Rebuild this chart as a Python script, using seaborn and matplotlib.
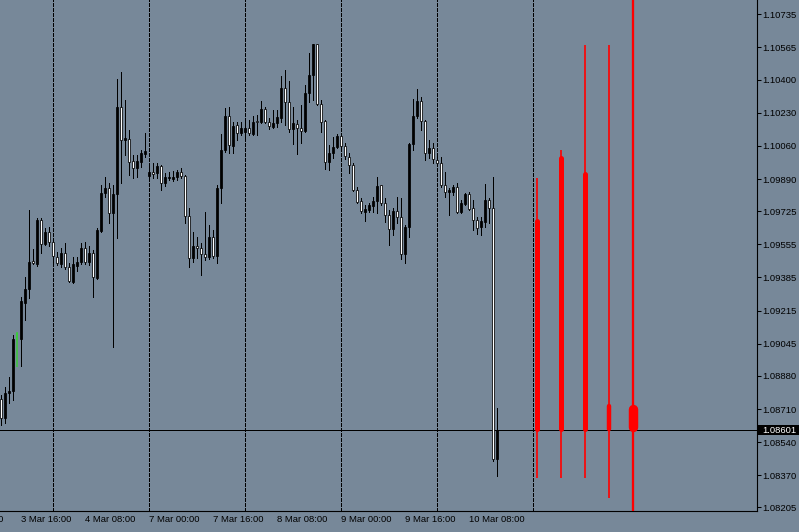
import numpy as np
import pandas as pd
import matplotlib
matplotlib.use("Agg")
import matplotlib.pyplot as plt
import matplotlib.transforms as mtransforms
from matplotlib.patches import Rectangle
import seaborn as sns

# ---------------- data (EURUSD H1, 3 Mar 11:00 .. 10 Mar 15:00) ----------------
opens = [1.08761, 1.08664, 1.08792, 1.08802, 1.09064, 1.09069, 1.09254, 1.09325, 1.09469, 1.09454,
         1.09679, 1.09556, 1.09618, 1.09567, 1.09490, 1.09454, 1.09510, 1.09438, 1.09361, 1.09443,
         1.09464, 1.09536, 1.09464, 1.09510, 1.09382, 1.09623, 1.09818, 1.09844, 1.09715, 1.09813,
         1.10259, 1.10090, 1.10095, 1.09982, 1.09946, 1.09977, 1.10018, 1.09905, 1.09926, 1.09921,
         1.09956, 1.09869, 1.09895, 1.09890, 1.09900, 1.09926, 1.09905, 1.09700, 1.09485, 1.09546,
         1.09536, 1.09505, 1.09490, 1.09592, 1.09495, 1.09844, 1.10038, 1.10213, 1.10059, 1.10167,
         1.10126, 1.10131, 1.10151, 1.10121, 1.10187, 1.10182, 1.10249, 1.10182, 1.10157, 1.10177,
         1.10203, 1.10357, 1.10285, 1.10146, 1.10172, 1.10151, 1.10136, 1.10331, 1.10423, 1.10582,
         1.10274, 1.10187, 1.09977, 1.10023, 1.10054, 1.10110, 1.10059, 1.10003, 1.09962, 1.09833,
         1.09777, 1.09720, 1.09731, 1.09751, 1.09777, 1.09859, 1.09767, 1.09705, 1.09633, 1.09726,
         1.09695, 1.09505, 1.09644, 1.10069, 1.10213, 1.10290, 1.10187, 1.10023, 1.10049, 1.09987,
         1.09972, 1.09859, 1.09823, 1.09823, 1.09849, 1.09720, 1.09762, 1.09813, 1.09741, 1.09679,
         1.09644, 1.09669, 1.09782, 1.09741, 1.08453]
highs = [1.08782, 1.08823, 1.08874, 1.09089, 1.09105, 1.09284, 1.09387, 1.09731, 1.09531, 1.09690,
         1.09690, 1.09638, 1.09644, 1.09587, 1.09515, 1.09536, 1.09561, 1.09459, 1.09490, 1.09490,
         1.09561, 1.09567, 1.09546, 1.09526, 1.09638, 1.09859, 1.09900, 1.09869, 1.09859, 1.10403,
         1.10439, 1.10295, 1.10141, 1.10013, 1.10013, 1.10038, 1.10126, 1.09962, 1.09972, 1.09972,
         1.09962, 1.09921, 1.09926, 1.09931, 1.09936, 1.09946, 1.09910, 1.09741, 1.09618, 1.09592,
         1.09561, 1.09720, 1.09654, 1.09628, 1.09859, 1.10121, 1.10254, 1.10259, 1.10182, 1.10182,
         1.10182, 1.10182, 1.10192, 1.10213, 1.10218, 1.10290, 1.10259, 1.10203, 1.10244, 1.10244,
         1.10418, 1.10449, 1.10392, 1.10259, 1.10192, 1.10269, 1.10372, 1.10536, 1.10582, 1.10582,
         1.10295, 1.10192, 1.10064, 1.10105, 1.10121, 1.10121, 1.10074, 1.10023, 1.09972, 1.09849,
         1.09792, 1.09756, 1.09767, 1.09797, 1.09900, 1.09859, 1.09792, 1.09731, 1.09741, 1.09797,
         1.09792, 1.09654, 1.10074, 1.10300, 1.10351, 1.10310, 1.10192, 1.10090, 1.10074, 1.10003,
         1.10003, 1.09926, 1.09844, 1.09859, 1.09869, 1.09782, 1.09818, 1.09823, 1.09782, 1.09695,
         1.09695, 1.09864, 1.09792, 1.09900, 1.08715]
lows = [1.08628, 1.08638, 1.08741, 1.08756, 1.08925, 1.08930, 1.09166, 1.09279, 1.09454, 1.09443,
        1.09510, 1.09551, 1.09546, 1.09464, 1.09449, 1.09438, 1.09428, 1.09361, 1.09356, 1.09418,
        1.09454, 1.09454, 1.09449, 1.09284, 1.09377, 1.09618, 1.09797, 1.09664, 1.09028, 1.09587,
        1.09869, 1.10013, 1.09910, 1.09895, 1.09900, 1.09951, 1.10003, 1.09895, 1.09895, 1.09895,
        1.09833, 1.09854, 1.09885, 1.09880, 1.09885, 1.09895, 1.09664, 1.09438, 1.09464, 1.09485,
        1.09397, 1.09474, 1.09479, 1.09485, 1.09459, 1.09767, 1.10028, 1.10023, 1.10023, 1.10090,
        1.10115, 1.10100, 1.10115, 1.10115, 1.10115, 1.10177, 1.10177, 1.10146, 1.10151, 1.10157,
        1.10182, 1.10167, 1.10131, 1.10069, 1.10018, 1.10074, 1.10131, 1.10285, 1.10295, 1.10269,
        1.10131, 1.09941, 1.09936, 1.09997, 1.10049, 1.10049, 1.09992, 1.09921, 1.09828, 1.09767,
        1.09715, 1.09674, 1.09720, 1.09720, 1.09715, 1.09756, 1.09669, 1.09551, 1.09602, 1.09664,
        1.09479, 1.09459, 1.09592, 1.10038, 1.10203, 1.10141, 1.09987, 1.09997, 1.09972, 1.09962,
        1.09849, 1.09797, 1.09705, 1.09808, 1.09715, 1.09715, 1.09756, 1.09731, 1.09628, 1.09608,
        1.09602, 1.09644, 1.09664, 1.08443, 1.08366]
closes = [1.08664, 1.08792, 1.08802, 1.09069, 1.09100, 1.09264, 1.09325, 1.09464, 1.09459, 1.09679,
          1.09556, 1.09618, 1.09567, 1.09495, 1.09459, 1.09510, 1.09438, 1.09367, 1.09454, 1.09464,
          1.09536, 1.09464, 1.09510, 1.09387, 1.09628, 1.09818, 1.09844, 1.09715, 1.09813, 1.10259,
          1.10090, 1.10100, 1.09977, 1.09946, 1.09982, 1.10023, 1.10033, 1.09926, 1.09915, 1.09956,
          1.09869, 1.09900, 1.09900, 1.09900, 1.09926, 1.09905, 1.09700, 1.09485, 1.09546, 1.09536,
          1.09505, 1.09490, 1.09592, 1.09495, 1.09844, 1.10038, 1.10213, 1.10064, 1.10162, 1.10126,
          1.10151, 1.10151, 1.10126, 1.10182, 1.10182, 1.10249, 1.10182, 1.10162, 1.10177, 1.10208,
          1.10357, 1.10285, 1.10146, 1.10177, 1.10151, 1.10136, 1.10331, 1.10423, 1.10582, 1.10274,
          1.10182, 1.09977, 1.10023, 1.10054, 1.10110, 1.10059, 1.10008, 1.09962, 1.09833, 1.09772,
          1.09726, 1.09736, 1.09756, 1.09777, 1.09854, 1.09767, 1.09705, 1.09633, 1.09726, 1.09695,
          1.09505, 1.09644, 1.10069, 1.10213, 1.10290, 1.10187, 1.10023, 1.10049, 1.09992, 1.09972,
          1.09859, 1.09823, 1.09833, 1.09849, 1.09720, 1.09767, 1.09813, 1.09736, 1.09679, 1.09638,
          1.09674, 1.09782, 1.09741, 1.08453, 1.08601]
highlight_bar = 4          # candle drawn in green

current_price = 1.08601

# higher-timeframe red candles drawn to the right of the last bar
red_slots = [134, 140, 146, 152, 158]
red_open = [1.09684, 1.10003, 1.09921, 1.08735, 1.08725]
red_high = [1.09895, 1.10038, 1.10577, 1.10577, 1.11300]
red_low = [1.08356, 1.08356, 1.08356, 1.08253, 1.07800]
red_close = [1.08601, 1.08601, 1.08601, 1.08601, 1.08601]

day_separator_bars = [13, 37, 61, 85, 109, 133]
time_tick_bars = [5, 21, 37, 53, 69, 85, 101, 117]
time_tick_labels = ["3 Mar 16:00", "4 Mar 08:00", "7 Mar 00:00", "7 Mar 16:00",
                    "8 Mar 08:00", "9 Mar 00:00", "9 Mar 16:00", "10 Mar 08:00"]
cut_label_bar = -12
cut_label = "3 Mar 00:00"

price_ticks = [1.10735, 1.10565, 1.10400, 1.10230, 1.10060, 1.09890, 1.09725, 1.09555,
               1.09385, 1.09215, 1.09045, 1.08880, 1.08710, 1.08540, 1.08370, 1.08205]

# ---------------- style ----------------
BG = "#778899"
RED = "#ff0000"
GREEN = "#3cc83c"
sns.set_style("white", rc={"axes.facecolor": BG, "figure.facecolor": BG,
                           "axes.edgecolor": "black", "text.color": "black",
                           "xtick.color": "black", "ytick.color": "black",
                           "axes.labelcolor": "black"})
plt.rcParams["font.family"] = ["Liberation Sans", "DejaVu Sans"]
FS = 6.8
PX = 0.72   # one pixel in points

W, H = 799, 532
fig = plt.figure(figsize=(W / 100, H / 100), dpi=100)
ax = fig.add_axes([0, 21 / H, 757 / W, 511 / H])
ax.set_facecolor(BG)

YMAX, YMIN = 1.108084, 1.08187
ax.set_xlim(-0.25, 189.0)
ax.set_ylim(YMIN, YMAX)
ppp = (YMAX - YMIN) / 511.0   # price per pixel (for cap insets)

df = pd.DataFrame({"bar": np.arange(len(opens)), "open": opens, "high": highs,
                   "low": lows, "close": closes})
df["bull"] = df["close"] >= df["open"]
main = df[df["bar"] != highlight_bar]

# wicks via seaborn (one unit per candle)
wicks = pd.concat([main[["bar", "high"]].rename(columns={"high": "price"}),
                   main[["bar", "low"]].rename(columns={"low": "price"})])
sns.lineplot(data=wicks, x="bar", y="price", units="bar", estimator=None, sort=False,
             color="black", linewidth=PX, ax=ax, legend=False, zorder=2,
             antialiased=False)

# bodies
bottoms = np.minimum(main["open"], main["close"])
heights = np.maximum(np.abs(main["close"] - main["open"]), 0.6 * ppp)
ax.bar(main["bar"], heights, bottom=bottoms, width=0.62,
       color=np.where(main["bull"], "black", "white"), edgecolor="black",
       linewidth=0.55, zorder=3)

# highlighted green candle
g = df[df["bar"] == highlight_bar].iloc[0]
ax.vlines(g["bar"], g["low"], g["high"], color=GREEN, lw=1.1, zorder=4)
ax.bar([g["bar"]], [abs(g["close"] - g["open"])], bottom=[min(g["open"], g["close"])],
       width=0.55, color=GREEN, linewidth=0, zorder=4)

# separators and current price line
for b in day_separator_bars:
    ax.axvline(b, color="black", lw=PX, linestyle=(0, (3, 2)), zorder=1,
               antialiased=False)
ax.axhline(current_price, color="black", lw=PX, zorder=1.5, antialiased=False)

# red candles
red_body_w = [3.6, 3.6, 3.6, 3.2, 6.8]     # points
red_wick_w = [1.2, 1.2, 1.2, 1.2, 1.65]
for x, o, hi, lo, c, bw, ww in zip(red_slots, red_open, red_high, red_low, red_close,
                                     red_body_w, red_wick_w):
    ax.vlines(x, lo, hi, colors=RED, lw=ww, zorder=5)
    inset = bw / 0.72 / 2 * ppp
    ax.plot([x, x], [c + inset * 0.6, o - inset * 0.6], color=RED, lw=bw,
            solid_capstyle="round", zorder=5)

# axes / spines
for s in ["top", "left"]:
    ax.spines[s].set_visible(False)
for s in ["right", "bottom"]:
    ax.spines[s].set_color("black")
    ax.spines[s].set_linewidth(0.8)

ax.yaxis.tick_right()
ax.set_yticks(price_ticks)
ax.set_yticklabels([f"{v:.5f}" for v in price_ticks])
ax.tick_params(axis="y", length=2.6, width=0.75, pad=1.2, labelsize=FS, direction="out")
ax.set_xticks(time_tick_bars)
ax.set_xticklabels(time_tick_labels)
ax.tick_params(axis="x", length=0, pad=2.6, labelsize=FS)
for lab in ax.get_xticklabels():
    lab.set_horizontalalignment("left")
ax.set_xlabel("")
ax.set_ylabel("")
ax.grid(False)

trans_x = mtransforms.blended_transform_factory(ax.transData, ax.transAxes)
ax.annotate(cut_label, xy=(cut_label_bar, 0), xycoords=trans_x, xytext=(0, -2.6),
            textcoords="offset points", ha="left", va="top", fontsize=FS,
            annotation_clip=False)

# current price box on the scale
trans_y = mtransforms.blended_transform_factory(ax.transAxes, ax.transData)
box_h = 10 * ppp
ax.add_patch(Rectangle((1.0, current_price - box_h / 2), (W - 757) / 757, box_h,
                       transform=trans_y, facecolor="black", edgecolor="none",
                       clip_on=False, zorder=6))
ax.text(1.0 + 5 / 757, current_price, f"{current_price:.5f}", transform=trans_y,
        ha="left", va="center", color="white", fontsize=FS, zorder=7, clip_on=False)

fig.savefig("out.png", dpi=100, facecolor=BG)
